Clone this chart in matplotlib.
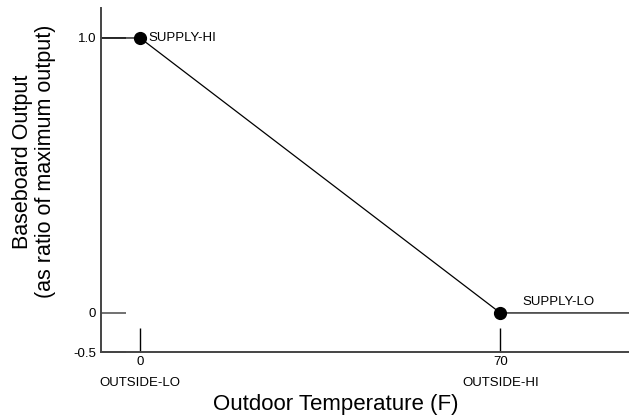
import matplotlib.pyplot as plt

plt.rcParams['font.family'] = ['Liberation Sans', 'DejaVu Sans']

# Reset points (outdoor temp F, output ratio)
temps = [0, 70]
outputs = [1.0, 0.0]
point_names = ['SUPPLY-HI', 'SUPPLY-LO']
temp_names = ['OUTSIDE-LO', 'OUTSIDE-HI']

# axis extents (axis is broken below 0, so -0.5 sits at the bottom)
x_lo, x_hi = -7.6, 95.0
y_lo, y_hi = -0.142, 1.109
ytick_vals = [y_lo, 0.0, 1.0]
ytick_labels = ['-0.5', '0', '1.0']

small = 9.5
big = 15.5

fig = plt.figure(figsize=(6.29, 4.19), dpi=100)
ax = fig.add_axes([0.1606, 0.1599, 0.8394, 0.8210])

# reset curve, flat outside the two points
line_x = [x_lo] + temps + [x_hi]
line_y = [outputs[0]] + outputs + [outputs[-1]]
ax.plot(line_x, line_y, color='black', lw=0.9, zorder=2)
ax.plot(temps, outputs, 'o', color='black', ms=8.5, zorder=3)

ax.text(temps[0] + 1.6, outputs[0], point_names[0], fontsize=small, va='center', ha='left')
ax.text(temps[1] + 4.3, outputs[1] + 0.04, point_names[1], fontsize=small, va='center', ha='left')

ax.set_xlim(x_lo, x_hi)
ax.set_ylim(y_lo, y_hi)

ax.spines['top'].set_visible(False)
ax.spines['right'].set_visible(False)
for s in ['left', 'bottom']:
    ax.spines[s].set_color('#444444')
    ax.spines[s].set_linewidth(1.4)

ax.set_xticks(temps)
ax.set_xticklabels(['0', '70'], fontsize=small)
ax.tick_params(axis='x', direction='in', length=17.5, width=1.0, color='black', pad=3)
ax.set_yticks(ytick_vals)
ax.set_yticklabels(ytick_labels, fontsize=small)
ax.tick_params(axis='y', direction='in', length=18, width=1.3, color='#666666', pad=3.5)

for t, name in zip(temps, temp_names):
    ax.text(t, -0.09, name, transform=ax.get_xaxis_transform(),
            fontsize=small, ha='center', va='center')

fig.text(0.534, 0.034, 'Outdoor Temperature (F)', fontsize=16, ha='center', va='center')
fig.text(0.054, 0.615, 'Baseboard Output\n(as ratio of maximum output)', fontsize=big,
         rotation=90, ha='center', va='center', multialignment='center', linespacing=1.1)

fig.savefig('out.png', dpi=100)
